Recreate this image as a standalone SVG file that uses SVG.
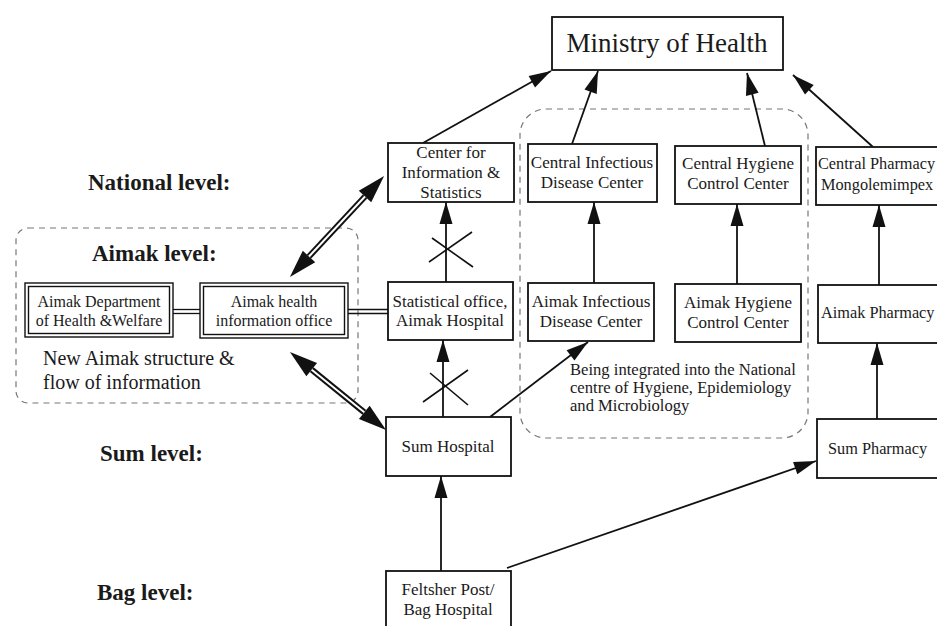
<svg xmlns="http://www.w3.org/2000/svg" width="937" height="626" viewBox="0 0 937 626">
<style>
.box{fill:#fff;stroke:#111;stroke-width:1.8}
.dbl{fill:#fff;stroke:#111;stroke-width:1.4}
.t{font-family:"Liberation Serif","Times New Roman",serif;font-size:17px;fill:#1a1a1a;text-anchor:middle}
.ts{font-family:"Liberation Serif","Times New Roman",serif;font-size:16.3px;fill:#1a1a1a}
.lvl{font-family:"Liberation Serif","Times New Roman",serif;font-size:23px;font-weight:bold;fill:#1a1a1a}
.note{font-family:"Liberation Serif","Times New Roman",serif;font-size:20px;fill:#1a1a1a}
.note2{font-family:"Liberation Serif","Times New Roman",serif;font-size:16.6px;fill:#1a1a1a}
.ar{stroke:#111;stroke-width:1.8;fill:none;marker-end:url(#ah)}
.ln{stroke:#111;stroke-width:1.6;fill:none}
.dash{fill:none;stroke:#777;stroke-width:1.2;stroke-dasharray:6 5}
.big{stroke:#111;stroke-width:6;fill:none;marker-start:url(#bh);marker-end:url(#bh)}
.bigin{stroke:#fff;stroke-width:2;fill:none}
.dl{stroke:#111;stroke-width:1.3}
</style>
<defs>
<marker id="ah" markerUnits="userSpaceOnUse" markerWidth="24" markerHeight="14" refX="22" refY="6.5" orient="auto" overflow="visible">
<path d="M0,0 L22,6.5 L0,13 z" fill="#111"/>
</marker>
<marker id="bh" markerUnits="userSpaceOnUse" markerWidth="30" markerHeight="18" refX="0" refY="8.5" orient="auto-start-reverse" overflow="visible">
<path d="M0,0 L28,8.5 L0,17 z" fill="#111"/>
</marker>
</defs>
<rect width="937" height="626" fill="#fff"/>

<g id="groups">
<rect class="dash" x="16" y="228" width="342" height="175" rx="12"/>
<rect class="dash" x="520" y="109" width="288" height="329" rx="26"/>
</g>

<g id="labels">
<text class="lvl" x="88" y="190">National level:</text>
<text class="lvl" x="92" y="261">Aimak level:</text>
<text class="lvl" x="100" y="461">Sum level:</text>
<text class="lvl" x="97" y="600">Bag level:</text>
<text class="note" x="43" y="365">New Aimak structure &amp;</text>
<text class="note" x="43" y="389">flow of information</text>
<text class="note2" x="570" y="375">Being integrated into the National</text>
<text class="note2" x="570" y="393">centre of Hygiene, Epidemiology</text>
<text class="note2" x="570" y="411">and Microbiology</text>
</g>

<g id="connectors">
<line class="ar" x1="423" y1="143" x2="551" y2="71"/>
<line class="ar" x1="572" y1="144" x2="598" y2="71"/>
<line class="ar" x1="765" y1="146" x2="747" y2="73"/>
<line class="ar" x1="873" y1="147" x2="793" y2="75"/>
<line class="ar" x1="446" y1="282" x2="446" y2="202"/>
<line class="ar" x1="594" y1="283" x2="594" y2="202"/>
<line class="ar" x1="737" y1="284" x2="737" y2="204"/>
<line class="ar" x1="879" y1="285" x2="879" y2="205"/>
<line class="ar" x1="443" y1="417" x2="443" y2="340"/>
<line class="ar" x1="490" y1="417" x2="588" y2="342"/>
<line class="ar" x1="877" y1="419" x2="877" y2="343"/>
<line class="ar" x1="441" y1="571" x2="441" y2="476"/>
<line class="ar" x1="507" y1="568" x2="816" y2="461"/>
<line class="ln" x1="429" y1="262" x2="472" y2="232"/>
<line class="ln" x1="432" y1="238" x2="473" y2="267"/>
<line class="ln" x1="423" y1="402" x2="468" y2="370"/>
<line class="ln" x1="430" y1="373" x2="468" y2="405"/>
<line class="big" x1="309" y1="256.5" x2="365" y2="196.5"/>
<line class="bigin" x1="309" y1="256.5" x2="365" y2="196.5"/>
<line class="big" x1="311.7" y1="369.7" x2="364.3" y2="412.3"/>
<line class="bigin" x1="311.7" y1="369.7" x2="364.3" y2="412.3"/>
<line class="dl" x1="173" y1="309.5" x2="200" y2="309.5"/>
<line class="dl" x1="173" y1="313.5" x2="200" y2="313.5"/>
<line class="dl" x1="348" y1="309.5" x2="388" y2="309.5"/>
<line class="dl" x1="348" y1="313.5" x2="388" y2="313.5"/>
</g>

<g id="ministry">
<rect class="box" x="552" y="17" width="231" height="53"/>
<text class="t" style="font-size:27px" x="667" y="52">Ministry of Health</text>
</g>
<g id="center-info">
<rect class="box" x="388" y="143" width="126" height="59"/>
<text class="t" x="451" y="158">Center for</text>
<text class="t" x="451" y="178">Information &amp;</text>
<text class="t" x="451" y="198">Statistics</text>
</g>
<g id="central-infectious">
<rect class="box" x="528" y="144" width="129" height="58"/>
<text class="t" x="592" y="168">Central Infectious</text>
<text class="t" x="592" y="188">Disease Center</text>
</g>
<g id="central-hygiene">
<rect class="box" x="675" y="146" width="126" height="58"/>
<text class="t" x="738" y="169">Central Hygiene</text>
<text class="t" x="738" y="189">Control Center</text>
</g>
<g id="central-pharmacy">
<rect class="box" x="816" y="147" width="140" height="58"/>
<text class="ts" x="818" y="169">Central Pharmacy</text>
<text class="ts" x="821" y="190">Mongolemimpex</text>
</g>
<g id="statistical-office">
<rect class="box" x="388" y="282" width="125" height="58"/>
<text class="t" x="450" y="307">Statistical office,</text>
<text class="t" x="450" y="326">Aimak Hospital</text>
</g>
<g id="aimak-infectious">
<rect class="box" x="528" y="283" width="126" height="58"/>
<text class="t" x="591" y="307">Aimak Infectious</text>
<text class="t" x="591" y="327">Disease Center</text>
</g>
<g id="aimak-hygiene">
<rect class="box" x="675" y="284" width="126" height="58"/>
<text class="t" x="738" y="308">Aimak Hygiene</text>
<text class="t" x="738" y="328">Control Center</text>
</g>
<g id="aimak-pharmacy">
<rect class="box" x="818" y="285" width="140" height="58"/>
<text class="ts" x="821" y="318">Aimak Pharmacy</text>
</g>
<g id="aimak-department">
<rect class="dbl" x="25" y="283" width="148" height="54"/>
<rect class="dbl" x="28.5" y="286.5" width="141" height="47"/>
<text class="t" style="font-size:16px" x="99" y="307">Aimak Department</text>
<text class="t" style="font-size:16px" x="99" y="326">of Health &amp;Welfare</text>
</g>
<g id="aimak-health-info">
<rect class="dbl" x="200" y="283" width="148" height="55"/>
<rect class="dbl" x="203.5" y="286.5" width="141" height="48"/>
<text class="t" style="font-size:16px" x="274" y="307">Aimak health</text>
<text class="t" style="font-size:16px" x="274" y="326">information office</text>
</g>
<g id="sum-hospital">
<rect class="box" x="386" y="417" width="125" height="59"/>
<text class="t" x="448" y="452">Sum Hospital</text>
</g>
<g id="sum-pharmacy">
<rect class="box" x="817" y="419" width="140" height="59"/>
<text class="ts" x="828" y="454">Sum Pharmacy</text>
</g>
<g id="feltsher">
<rect class="box" x="386" y="571" width="125" height="70"/>
<text class="t" x="448" y="595">Feltsher Post/</text>
<text class="t" x="448" y="615">Bag Hospital</text>
</g>
</svg>
